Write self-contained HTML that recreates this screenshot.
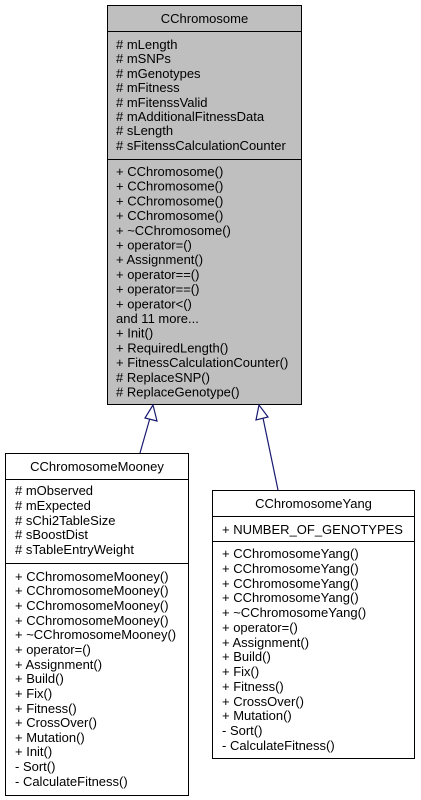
<!DOCTYPE html>
<html><head><style>body{margin:0;background:#fff}svg{display:block}text{font-family:"Liberation Sans",Arial,sans-serif;font-size:13px;fill:#000}</style></head>
<body>
<svg width="421" height="800" xmlns="http://www.w3.org/2000/svg">
<g stroke="#000" stroke-width="1">
<rect x="107.5" y="5.5" width="194" height="399" fill="#bfbfbf"/>
<line x1="107.5" y1="31.5" x2="301.5" y2="31.5"/>
<line x1="107.5" y1="159.5" x2="301.5" y2="159.5"/>
<rect x="5.5" y="453.5" width="183" height="342" fill="#fff"/>
<line x1="5.5" y1="479.5" x2="188.5" y2="479.5"/>
<line x1="5.5" y1="563.5" x2="188.5" y2="563.5"/>
<rect x="212.5" y="490.5" width="202" height="268" fill="#fff"/>
<line x1="212.5" y1="516.5" x2="414.5" y2="516.5"/>
<line x1="212.5" y1="541.5" x2="414.5" y2="541.5"/>
</g>
<g stroke="#191970" stroke-width="1.2" fill="#fff">
<line x1="140" y1="453" x2="150" y2="418"/>
<polygon points="153,405 145,418 157,421"/>
<line x1="278" y1="490" x2="263" y2="418"/>
<polygon points="259,405 256,420 268,417"/>
</g>
<text x="204.5" y="23" text-anchor="middle">CChromosome</text>
<g>
<text x="116" y="49"># mLength</text><text x="116" y="63"># mSNPs</text><text x="116" y="78"># mGenotypes</text><text x="116" y="92"># mFitness</text><text x="116" y="107"># mFitenssValid</text><text x="116" y="121"># mAdditionalFitnessData</text><text x="116" y="135"># sLength</text><text x="116" y="150"># sFitenssCalculationCounter</text>
</g>
<g>
<text x="116" y="176">+ CChromosome()</text><text x="116" y="190.7">+ CChromosome()</text><text x="116" y="205.4">+ CChromosome()</text><text x="116" y="220.1">+ CChromosome()</text><text x="116" y="234.8">+ ~CChromosome()</text><text x="116" y="249.5">+ operator=()</text><text x="116" y="264.2">+ Assignment()</text><text x="116" y="278.9">+ operator==()</text><text x="116" y="293.6">+ operator==()</text><text x="116" y="308.3">+ operator&lt;()</text><text x="116" y="323">and 11 more...</text><text x="116" y="337.7">+ Init()</text><text x="116" y="352.4">+ RequiredLength()</text><text x="116" y="367.1">+ FitnessCalculationCounter()</text><text x="116" y="381.8"># ReplaceSNP()</text><text x="116" y="396.5"># ReplaceGenotype()</text>
</g>
<text x="97" y="471" text-anchor="middle">CChromosomeMooney</text>
<g>
<text x="15" y="495"># mObserved</text><text x="15" y="510"># mExpected</text><text x="15" y="525"># sChi2TableSize</text><text x="15" y="539"># sBoostDist</text><text x="15" y="554"># sTableEntryWeight</text>
</g>
<g>
<text x="15" y="581">+ CChromosomeMooney()</text><text x="15" y="595">+ CChromosomeMooney()</text><text x="15" y="610">+ CChromosomeMooney()</text><text x="15" y="625">+ CChromosomeMooney()</text><text x="15" y="639">+ ~CChromosomeMooney()</text><text x="15" y="654">+ operator=()</text><text x="15" y="669">+ Assignment()</text><text x="15" y="683">+ Build()</text><text x="15" y="698">+ Fix()</text><text x="15" y="713">+ Fitness()</text><text x="15" y="727">+ CrossOver()</text><text x="15" y="742">+ Mutation()</text><text x="15" y="756">+ Init()</text><text x="15" y="771">- Sort()</text><text x="15" y="786">- CalculateFitness()</text>
</g>
<text x="313.5" y="508" text-anchor="middle">CChromosomeYang</text>
<text x="222" y="534">+ NUMBER_OF_GENOTYPES</text>
<g>
<text x="222" y="558">+ CChromosomeYang()</text><text x="222" y="573">+ CChromosomeYang()</text><text x="222" y="588">+ CChromosomeYang()</text><text x="222" y="602">+ CChromosomeYang()</text><text x="222" y="617">+ ~CChromosomeYang()</text><text x="222" y="632">+ operator=()</text><text x="222" y="647">+ Assignment()</text><text x="222" y="661">+ Build()</text><text x="222" y="676">+ Fix()</text><text x="222" y="691">+ Fitness()</text><text x="222" y="706">+ CrossOver()</text><text x="222" y="720">+ Mutation()</text><text x="222" y="735">- Sort()</text><text x="222" y="750">- CalculateFitness()</text>
</g>
</svg>
</body></html>
